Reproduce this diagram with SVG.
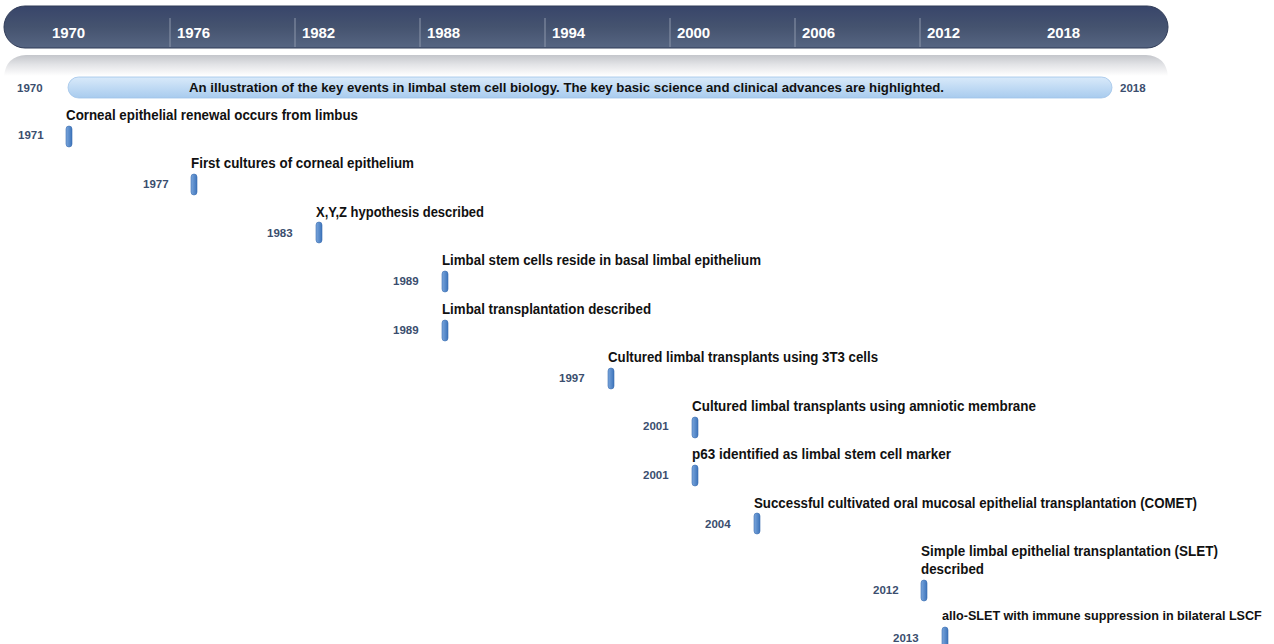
<svg xmlns="http://www.w3.org/2000/svg" width="1274" height="644" viewBox="0 0 1274 644">
<defs>
<linearGradient id="bar" x1="0" y1="0" x2="0" y2="1">
<stop offset="0" stop-color="#38456a"/>
<stop offset="0.5" stop-color="#45536f"/>
<stop offset="1" stop-color="#566582"/>
</linearGradient>
<linearGradient id="refl" x1="0" y1="0" x2="0" y2="1">
<stop offset="0" stop-color="#c4c6cb"/>
<stop offset="0.45" stop-color="#e2e3e6"/>
<stop offset="1" stop-color="#ffffff"/>
</linearGradient>
<linearGradient id="blue" x1="0" y1="0" x2="0" y2="1">
<stop offset="0" stop-color="#d9eafa"/>
<stop offset="1" stop-color="#a8cbee"/>
</linearGradient>
<linearGradient id="mk" x1="0" y1="0" x2="1" y2="0">
<stop offset="0" stop-color="#7aa6dc"/>
<stop offset="1" stop-color="#3d74bb"/>
</linearGradient>
</defs>
<style>
.yr{font-family:"Liberation Sans",Arial,sans-serif;font-weight:bold;font-size:15px;fill:#ffffff}
.sep{stroke:#8d97ab;stroke-width:1}
.ylab{font-family:"Liberation Sans",Arial,sans-serif;font-weight:bold;font-size:11.5px;fill:#3b4e6e}
.ev{font-family:"Liberation Sans",Arial,sans-serif;font-weight:bold;font-size:14px;fill:#111111}
.mk{fill:url(#mk);stroke:#3a6db0;stroke-width:0.6}
</style>
<g id="timeline-bar">
<rect x="4" y="6" width="1164" height="42" rx="21" fill="url(#bar)" stroke="#2f3b57" stroke-width="1"/>
<line class="sep" x1="170" y1="18" x2="170" y2="47"/>
<line class="sep" x1="295" y1="18" x2="295" y2="47"/>
<line class="sep" x1="420" y1="18" x2="420" y2="47"/>
<line class="sep" x1="545" y1="18" x2="545" y2="47"/>
<line class="sep" x1="670" y1="18" x2="670" y2="47"/>
<line class="sep" x1="795" y1="18" x2="795" y2="47"/>
<line class="sep" x1="920" y1="18" x2="920" y2="47"/>
<text class="yr" x="52" y="38" textLength="33">1970</text>
<text class="yr" x="177" y="38" textLength="33">1976</text>
<text class="yr" x="302" y="38" textLength="33">1982</text>
<text class="yr" x="427" y="38" textLength="33">1988</text>
<text class="yr" x="552" y="38" textLength="33">1994</text>
<text class="yr" x="677" y="38" textLength="33">2000</text>
<text class="yr" x="802" y="38" textLength="33">2006</text>
<text class="yr" x="927" y="38" textLength="33">2012</text>
<text class="yr" x="1047" y="38" textLength="33">2018</text>
</g>
<g id="reflection">
<path d="M4 76 Q6 56 26 55 L1146 55 Q1166 56 1168 76 Z" fill="url(#refl)"/>
</g>
<g id="span-bar">
<rect x="68" y="77" width="1044" height="21" rx="10.5" fill="url(#blue)" stroke="#9fc3e8" stroke-width="0.8"/>
<text class="ev" x="189" y="92" textLength="755" lengthAdjust="spacingAndGlyphs" style="font-size:13px">An illustration of the key events in limbal stem cell biology. The key basic science and clinical advances are highlighted.</text>
<text class="ylab" x="17" y="92">1970</text>
<text class="ylab" x="1120" y="92">2018</text>
</g>
<g id="e1971">
<text class="ev" x="66" y="120" textLength="292" lengthAdjust="spacingAndGlyphs">Corneal epithelial renewal occurs from limbus</text>
<rect class="mk" x="66" y="126" width="6" height="21" rx="3"/>
<text class="ylab" x="18" y="139">1971</text>
</g>
<g id="e1977">
<text class="ev" x="191" y="168" textLength="223" lengthAdjust="spacingAndGlyphs">First cultures of corneal epithelium</text>
<rect class="mk" x="191" y="174" width="6" height="21" rx="3"/>
<text class="ylab" x="143" y="188">1977</text>
</g>
<g id="e1983">
<text class="ev" x="316" y="217" textLength="168" lengthAdjust="spacingAndGlyphs">X,Y,Z hypothesis described</text>
<rect class="mk" x="316" y="222" width="6" height="21" rx="3"/>
<text class="ylab" x="267" y="237">1983</text>
</g>
<g id="e1989a">
<text class="ev" x="442" y="265" textLength="319" lengthAdjust="spacingAndGlyphs">Limbal stem cells reside in basal limbal epithelium</text>
<rect class="mk" x="442" y="271" width="6" height="21" rx="3"/>
<text class="ylab" x="393" y="285">1989</text>
</g>
<g id="e1989b">
<text class="ev" x="442" y="314" textLength="209" lengthAdjust="spacingAndGlyphs">Limbal transplantation described</text>
<rect class="mk" x="442" y="320" width="6" height="21" rx="3"/>
<text class="ylab" x="393" y="334">1989</text>
</g>
<g id="e1997">
<text class="ev" x="608" y="362" textLength="270" lengthAdjust="spacingAndGlyphs">Cultured limbal transplants using 3T3 cells</text>
<rect class="mk" x="608" y="368" width="6" height="21" rx="3"/>
<text class="ylab" x="559" y="382">1997</text>
</g>
<g id="e2001a">
<text class="ev" x="692" y="411" textLength="344" lengthAdjust="spacingAndGlyphs">Cultured limbal transplants using amniotic membrane</text>
<rect class="mk" x="692" y="417" width="6" height="21" rx="3"/>
<text class="ylab" x="643" y="430">2001</text>
</g>
<g id="e2001b">
<text class="ev" x="692" y="459" textLength="259" lengthAdjust="spacingAndGlyphs">p63 identified as limbal stem cell marker</text>
<rect class="mk" x="692" y="465" width="6" height="21" rx="3"/>
<text class="ylab" x="643" y="479">2001</text>
</g>
<g id="e2004">
<text class="ev" x="754" y="508" textLength="443" lengthAdjust="spacingAndGlyphs">Successful cultivated oral mucosal epithelial transplantation (COMET)</text>
<rect class="mk" x="754" y="513" width="6" height="21" rx="3"/>
<text class="ylab" x="705" y="528">2004</text>
</g>
<g id="e2012">
<text class="ev" x="921" y="556" textLength="297" lengthAdjust="spacingAndGlyphs">Simple limbal epithelial transplantation (SLET)</text>
<text class="ev" x="921" y="574" textLength="63" lengthAdjust="spacingAndGlyphs">described</text>
<rect class="mk" x="921" y="580" width="6" height="21" rx="3"/>
<text class="ylab" x="873" y="594">2012</text>
</g>
<g id="e2013">
<text class="ev" x="942" y="620" style="font-size:12.6px">allo-SLET with immune suppression in bilateral LSCF</text>
<rect class="mk" x="942" y="627" width="6" height="21" rx="3"/>
<text class="ylab" x="893" y="642">2013</text>
</g>
<g id="connectors"/>
</svg>
